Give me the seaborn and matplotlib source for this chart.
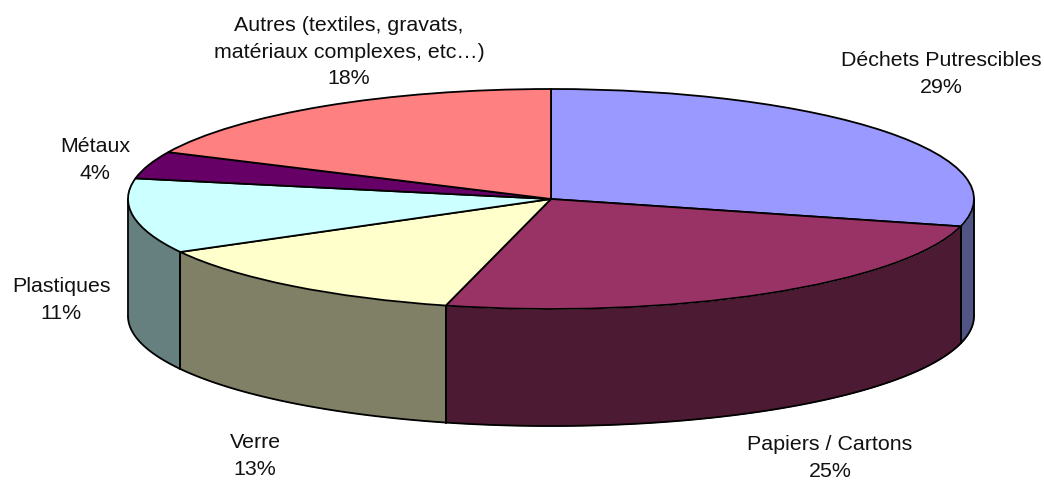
#!/usr/bin/env python3
"""
Composition des dechets - 3D style pie
"""
import numpy as np
import matplotlib.pyplot as plt
import seaborn as sns

labels = ["Déchets Putrescibles", "Papiers / Cartons", "Verre", "Plastiques", "Métaux",
          "Autres (textiles, gravats,\nmatériaux complexes, etc…)"]
shares = [29, 25, 13, 11, 4, 18]
top_colors = ["#9999FF", "#993366", "#FFFFCC", "#CCFFFF", "#660066", "#FF8080"]
side_colors = ["#505585", "#4D1A33", "#808066", "#668080", "#330033", "#804040"]

# pixel geometry of the reference
W, H = 1044, 480
CX, CY = 551, 199
RX, RY = 423, 110
DEPTH = 117 / RY

# label anchors, pixel position of the text centre
label_pos = [(941, 74), (830, 458), (255, 456), (61, 300), (95, 160), (349, 52)]

sns.set_theme(style="white")
plt.rcParams["font.family"] = ["Liberation Sans", "DejaVu Sans"]

fig = plt.figure(figsize=(W / 100, H / 100), dpi=100)
ax = fig.add_axes([0, 0, 1, 1])

# top face, squashed by the axes limits below
ax.pie(shares, colors=top_colors, startangle=90, counterclock=False, radius=1,
       wedgeprops={"edgecolor": "black", "linewidth": 1.3, "zorder": 3})
ax.set_aspect("auto")
ax.set_xlim(-CX / RX, (W - CX) / RX)
ax.set_ylim((CY - H) / RY, CY / RY)

# side wall, only the front half of the rim is visible
edges = np.cumsum([0] + shares) / sum(shares) * 360
for start, end, col in zip(edges[:-1], edges[1:], side_colors):
    a0, a1 = max(start, 90), min(end, 270)
    if a0 >= a1:
        continue
    t = np.radians(np.linspace(a0, a1, 120))
    x = np.sin(t)
    y = np.cos(t)
    ax.fill_between(x, y - DEPTH, y, color=col, linewidth=0, zorder=1)
    ax.plot(x, y - DEPTH, color="black", lw=1.3, zorder=2)
    for v in (a0, a1):
        r = np.radians(v)
        ax.plot([np.sin(r)] * 2, [np.cos(r), np.cos(r) - DEPTH], color="black", lw=1.3, zorder=2)

for name, share, (px, py) in zip(labels, shares, label_pos):
    ax.text((px - CX) / RX, (CY - py) / RY, f"{name}\n{share}%", ha="center", va="center",
            fontsize=15.4, color="#111111", linespacing=1.52, zorder=5)

ax.axis("off")
fig.savefig("out.png", dpi=100, facecolor="white")
plt.close(fig)
print("Saved: out.png")
